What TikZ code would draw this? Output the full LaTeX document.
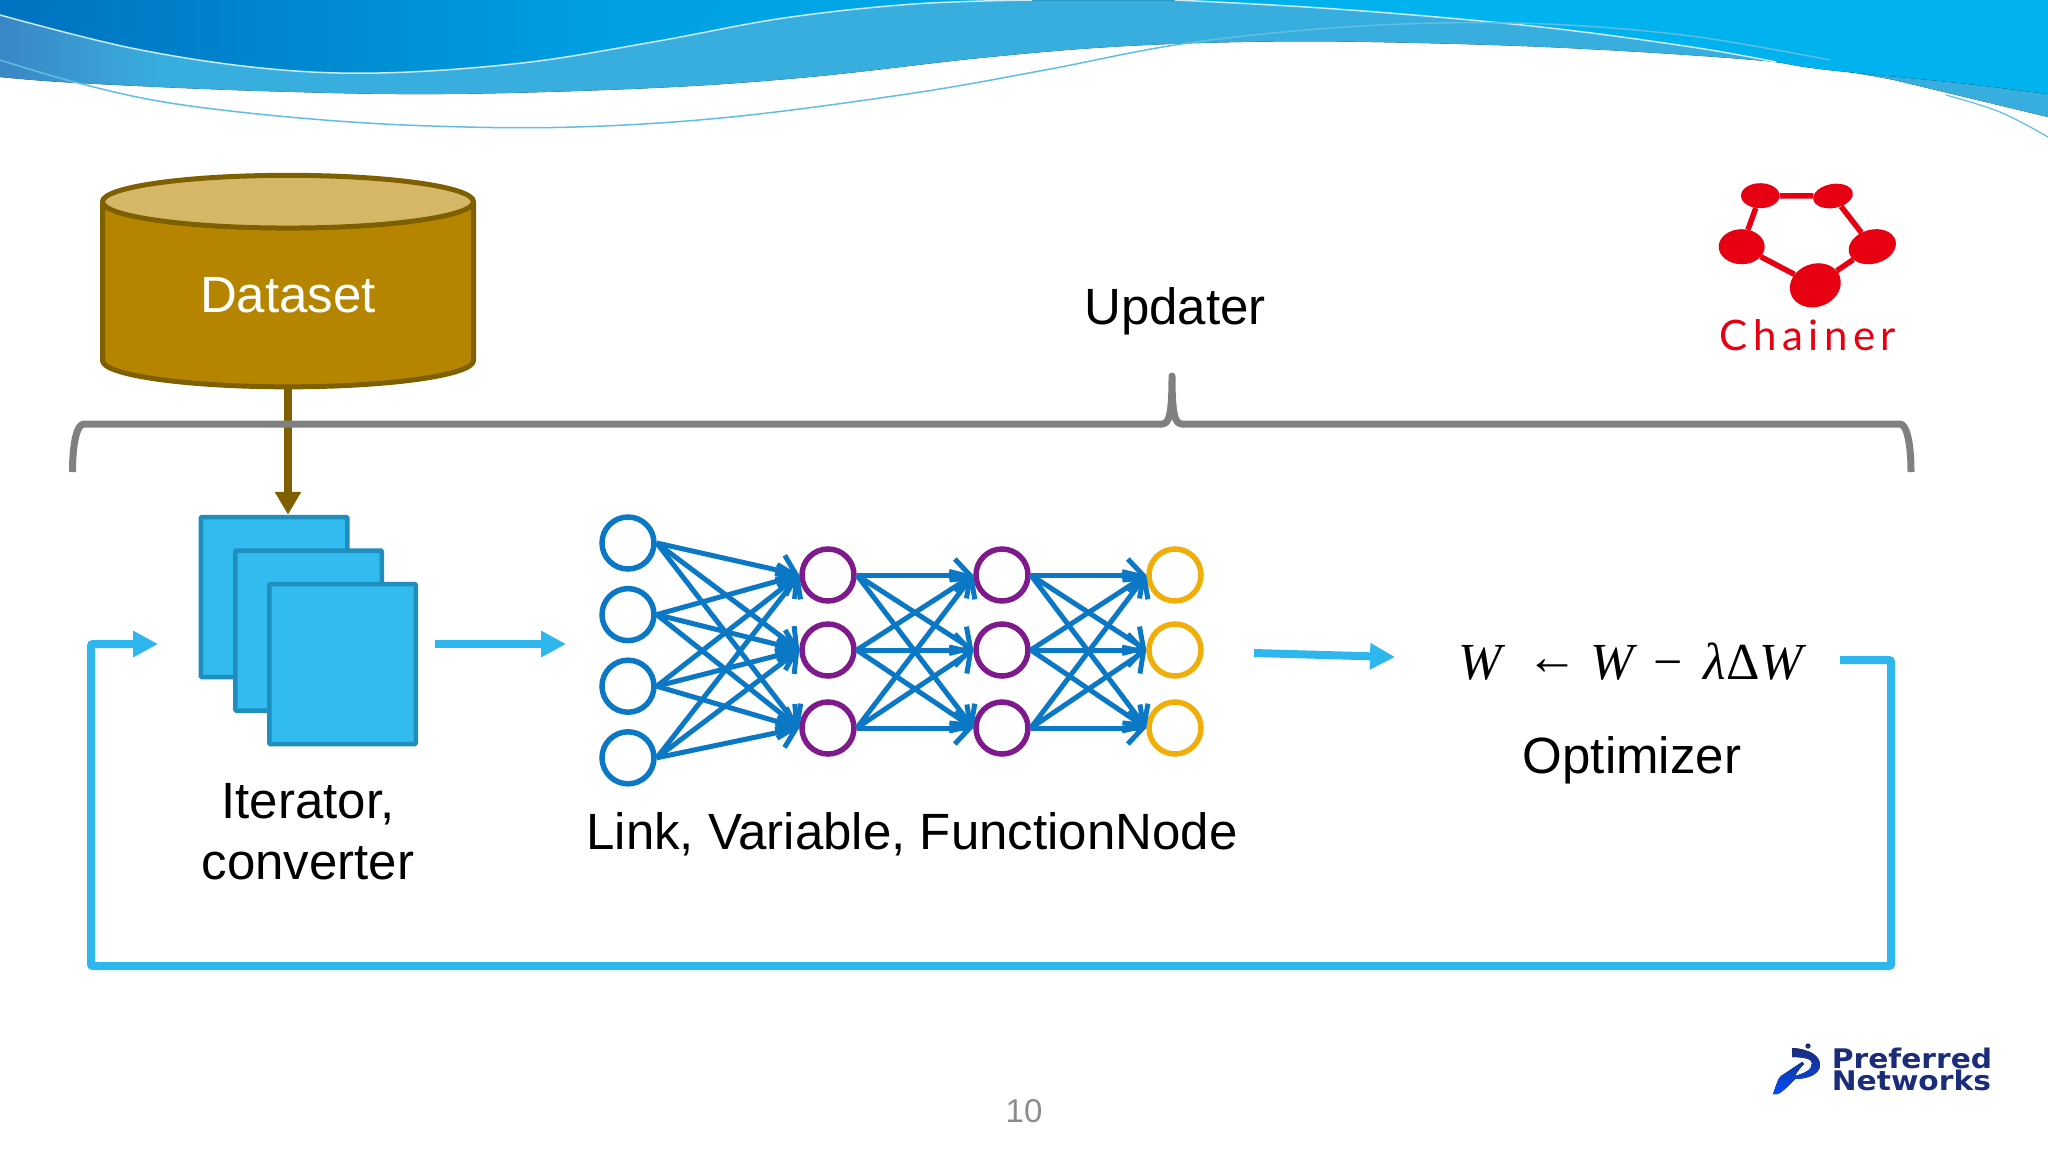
\documentclass[tikz,border=0pt]{standalone}
\usepackage{fontspec}
\usepackage{xcolor}
\usepackage{tikz}
\usetikzlibrary{shapes,arrows.meta,positioning,calc}
\setmainfont{Liberation Sans}
\newfontfamily\rulefont{Liberation Serif}
\newfontfamily\logofont{Lato}[LetterSpace=13]
\newfontfamily\pfnfont{DejaVu Sans}[BoldFont=* Bold,FakeStretch=1.1]

\definecolor{skyA}{HTML}{0072BF}
\definecolor{skyB}{HTML}{00A0E2}
\definecolor{skyC}{HTML}{00B2ED}
\definecolor{steel}{HTML}{3A86C4}
\definecolor{bandblue}{HTML}{38AEDE}
\definecolor{dbbody}{HTML}{B58500}
\definecolor{dbtop}{HTML}{D5B767}
\definecolor{dbline}{HTML}{7F6000}
\definecolor{pagefill}{HTML}{31BBEE}
\definecolor{pageline}{HTML}{1F8EBD}
\definecolor{flow}{HTML}{2DB7EE}
\definecolor{netblue}{HTML}{0A78C4}
\definecolor{netpurple}{HTML}{7E1A8C}
\definecolor{netyellow}{HTML}{F0AE0A}
\definecolor{chainred}{HTML}{E60012}
\definecolor{pfnblue}{HTML}{1B2C7A}

\pgfdeclarehorizontalshading{skyshade}{100bp}{color(0bp)=(skyA); color(25bp)=(skyA); color(40bp)=(skyB); color(58bp)=(skyC); color(100bp)=(skyC)}
\pgfdeclarehorizontalshading{bandshade}{100bp}{color(0bp)=(steel); color(25bp)=(steel); color(29bp)=(bandblue); color(100bp)=(bandblue)}

\tikzset{
  txt/.style={inner sep=0pt,font=\fontsize{51}{61}\selectfont,align=center},
  page/.style={draw=pageline,fill=pagefill,line width=4.5pt,rounded corners=1pt,minimum width=146.5pt,minimum height=160pt},
  inp/.style={circle,draw=netblue,line width=5.5pt,minimum size=52pt,inner sep=0pt},
  hid/.style={inp,draw=netpurple},
  outp/.style={inp,draw=netyellow},
  link/.style={draw=netblue,line width=5pt,-{Straight Barb[length=15pt,width=32pt,line width=5pt]}},
  flowline/.style={draw=flow,line width=8pt,-{Triangle[length=25pt,width=25pt]}},
  blob/.style={ellipse,fill=chainred,inner sep=0pt},
}

\begin{document}
\begin{tikzpicture}[x=1pt,y=-1pt,node distance=71.6pt]
  \useasboundingbox (0,0) rectangle (2048,1152);

  % waves at the top
  \fill[shading=bandshade] (0,0) -- (2048,0) -- (2048,117) -- plot[smooth,tension=.6] coordinates {(1894,80) (1776,62) (1567,48) (1371,42) (1241,42) (1110,47) (980,58) (810,77) (653,88) (444,94) (261,91) (78,83) (0,77)} -- cycle;
  \fill[shading=skyshade] (0,0) -- (0,15) -- plot[smooth,tension=.6] coordinates {(0,15) (131,48) (261,68) (379,73) (522,63) (653,42) (784,18) (914,4) (1032,0)} -- (1175,0) -- plot[smooth,tension=.6] coordinates {(1175,0) (1306,7) (1437,17) (1567,30) (1698,48) (1776,62) (1828,70) (1959,83) (2048,94)} -- (2048,0) -- cycle;
  \draw[white!75!bandblue,line width=1.5pt] plot[smooth,tension=.6] coordinates {(0,15) (131,48) (261,68) (379,73) (522,63) (653,42) (784,18) (914,4) (1032,0)};
  \draw[white!75!bandblue,line width=1.5pt] plot[smooth,tension=.6] coordinates {(1175,0) (1306,7) (1437,17) (1567,30) (1698,48) (1776,62)};
  \draw[bandblue!80,line width=1.5pt] plot[smooth,tension=.6] coordinates {(0,60) (78,83) (170,103) (300,118) (431,126) (575,127) (731,117) (914,93) (1045,70) (1175,45) (1306,30) (1437,23) (1567,25) (1698,37) (1830,60)};
  \draw[bandblue!80,line width=1.2pt] plot[smooth,tension=.6] coordinates {(1946,95) (2000,112) (2048,137)};

  % dataset
  \node[cylinder,shape border rotate=90,aspect=.3,draw=dbline,line width=5pt,cylinder uses custom fill,cylinder body fill=dbbody,cylinder end fill=dbtop,minimum width=371pt,minimum height=211.5pt,text=white,inner sep=0pt,font=\fontsize{51}{61}\selectfont] (data) at (288,295.5) {\raisebox{-2.5pt}{Dataset}};

  % minibatch pages
  \node[page] (pageA) at (274,597) {};
  \node[page] (pageB) at ($(pageA)+(34.5,33.5)$) {};
  \node[page] (pageC) at ($(pageB)+(34,33.5)$) {};
  \draw[dbline,line width=8pt,-{Triangle[length=23pt,width=25pt]}] (data.south) -- (data.south |- pageA.north);

  % updater brace
  \draw[draw=black!50,line width=7pt,line join=round,line cap=butt] (72.5,472) .. controls (72.5,445) and (76.5,424) .. (84,424) -- (1162,424) .. controls (1169,424) and (1172,415) .. (1172,376) .. controls (1172,415) and (1175,424) .. (1182,424) -- (1900,424) .. controls (1907,424) and (1911,445) .. (1911,472);
  \node[txt] (updater) at (1175,311) {Updater};

  \node[txt] (iter) at (308,832) {Iterator,\\converter};

  % network
  \node[inp] (i1) at (628,543) {};
  \node[inp,below of=i1] (i2) {};
  \node[inp,below of=i2] (i3) {};
  \node[inp,below of=i3] (i4) {};
  \node[hid] (h1) at (828,575) {};
  \node[hid,below of=h1,node distance=75pt] (h2) {};
  \node[hid,below of=h2,node distance=78pt] (h3) {};
  \node[hid,right of=h1,node distance=174pt] (g1) {};
  \node[hid,right of=h2,node distance=174pt] (g2) {};
  \node[hid,right of=h3,node distance=174pt] (g3) {};
  \node[outp,right of=g1,node distance=173pt] (o1) {};
  \node[outp,right of=g2,node distance=173pt] (o2) {};
  \node[outp,right of=g3,node distance=173pt] (o3) {};
  \foreach \b in {1,2,3} {
    \foreach \a in {1,2,3,4}
      \draw[link] (i\a.east) -- (h\b.west);
    \foreach \a in {1,2,3} {
      \draw[link] (h\a.east) -- (g\b.west);
      \draw[link] (g\a.east) -- (o\b.west);
    }
  }
  \node[txt] (netlabel) at (912,834) {Link, Variable, FunctionNode};

  % optimizer
  \node[inner sep=0pt,font=\rulefont\fontsize{52}{60}\selectfont] (rule) at (1633,662) {\textit{W}\kern20pt\raisebox{5pt}{←}\kern12pt\textit{W}\kern16pt −\kern21pt\textit{λ}Δ\textit{W}};
  \node[txt] (optim) at (1632,760) {Optimizer};

  % flow arrows
  \coordinate (pagesOut) at (435,644);
  \coordinate (netIn) at (566,644);
  \coordinate (netOut) at (1254,653);
  \coordinate (ruleIn) at (1395,657);
  \coordinate (ruleOut) at (1840,660);
  \coordinate (pagesIn) at (158,644);
  \draw[flowline] (pagesOut) -- (netIn);
  \draw[flowline] (netOut) -- (ruleIn);
  \draw[flowline,rounded corners=2pt] (ruleOut) -- (1891,660) -- (1891,966) -- (91,966) -- (91,644) -- (pagesIn);

  % chainer logo
  \node[blob,minimum width=38.6pt,minimum height=25pt] (c1) at (1760.3,195.7) {};
  \node[blob,minimum width=40pt,minimum height=24pt,rotate=10] (c2) at (1833,196) {};
  \node[blob,minimum width=48pt,minimum height=34pt,rotate=15] (c3) at (1872.3,246.7) {};
  \node[blob,minimum width=52pt,minimum height=43pt,rotate=20] (c4) at (1815.3,285.3) {};
  \node[blob,minimum width=46pt,minimum height=35pt] (c5) at (1741.7,246.7) {};
  \draw[chainred,line width=5.5pt] (c1) -- (c2) -- (c3) -- (c4) -- (c5) -- (c1);
  \node[inner sep=0pt,text=chainred,font=\logofont\fontsize{42}{50}\selectfont] (chainer) at (1808,335) {Chainer};

  % pfn logo
  \fill[top color=pfnblue,bottom color=blue!70!cyan] (1792,1048) .. controls (1810,1049) and (1820,1056) .. (1820,1065) .. controls (1820,1074) and (1808,1079) .. (1795,1079) .. controls (1790,1084) and (1785,1090) .. (1778,1094) -- (1773,1094) .. controls (1776,1086) and (1778,1078) .. (1781,1076) -- (1802,1062) -- (1804,1064) .. controls (1798,1070) and (1796,1074) .. (1795,1076) .. controls (1805,1073) and (1812,1070) .. (1812,1063) .. controls (1812,1059) and (1804,1057) .. (1792,1057) -- cycle;
  \fill[pfnblue] (1808,1046) circle (2.7);
  \node[inner sep=0pt,text=pfnblue,font=\pfnfont\bfseries\fontsize{27}{20}\selectfont,align=left] (pfn) at (1912,1069) {Preferred\\Networks};

  \node[inner sep=0pt,text=black!45,font=\fontsize{33}{40}\selectfont] (pageno) at (1024,1111) {10};
\end{tikzpicture}
\end{document}
